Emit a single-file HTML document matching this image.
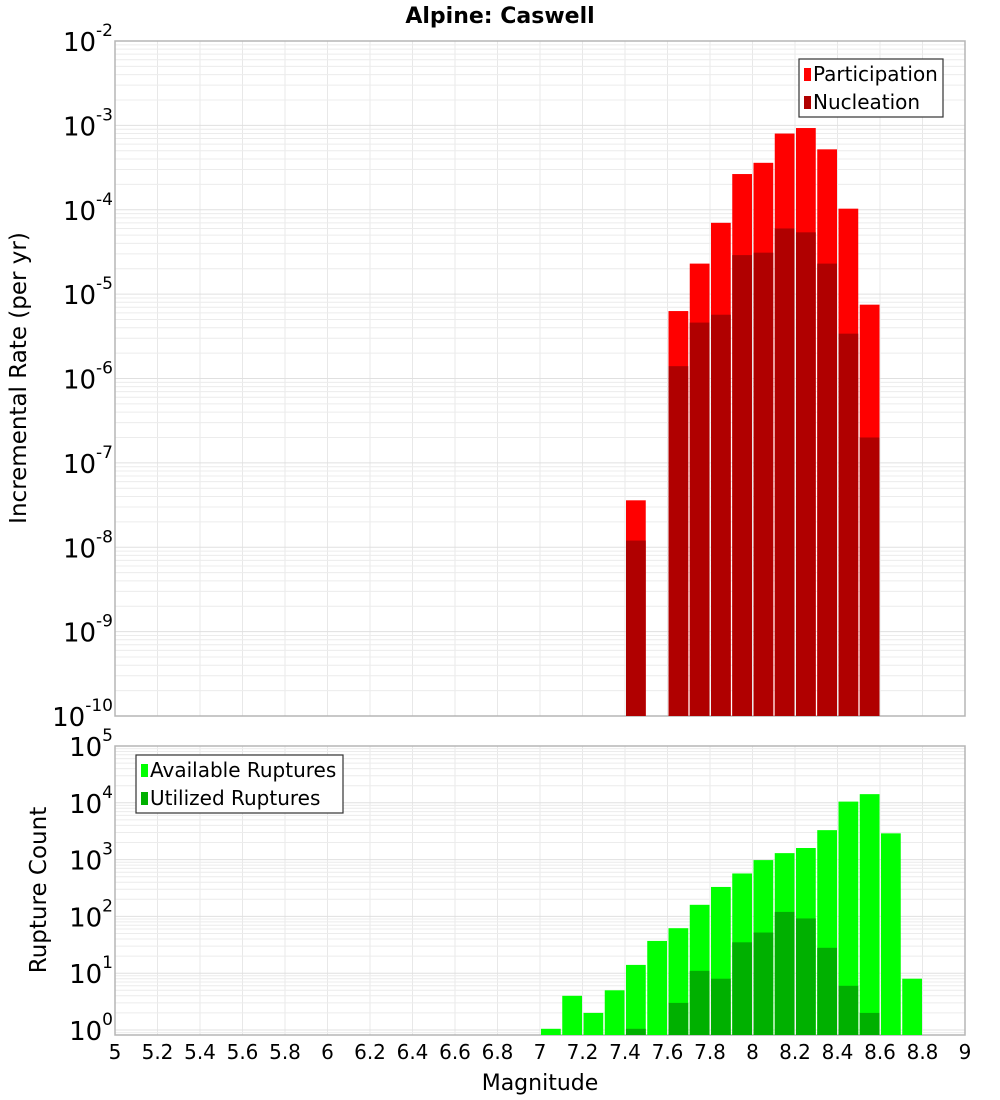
<!DOCTYPE html>
<html><head><meta charset="utf-8"><style>
body{margin:0;background:#fff;}
svg{display:block;font-family:"DejaVu Sans","Liberation Sans",sans-serif;}
</style></head><body>
<svg id="chart" width="1000" height="1100" viewBox="0 0 1000 1100" xmlns="http://www.w3.org/2000/svg">
<text x="500" y="23" text-anchor="middle" font-size="22" font-weight="bold">Alpine: Caswell</text>
<g id="top"></g><g id="bot"></g><g id="xaxis"></g>
<text x="540" y="1090" text-anchor="middle" font-size="22">Magnitude</text>
<text transform="translate(26,378) rotate(-90)" text-anchor="middle" font-size="23">Incremental Rate (per yr)</text>
<text transform="translate(46,890) rotate(-90)" text-anchor="middle" font-size="23">Rupture Count</text>
</svg>
<script>
const binStarts=[7.0,7.1,7.2,7.3,7.4,7.5,7.6,7.7,7.8,7.9,8.0,8.1,8.2,8.3,8.4,8.5,8.6,8.7];
const participation=[0,0,0,0,3.6e-8,0,6.3e-6,2.3e-5,7.0e-5,2.65e-4,3.6e-4,8.0e-4,9.3e-4,5.2e-4,1.03e-4,7.5e-6,0,0];
const nucleation=[0,0,0,0,1.2e-8,0,1.4e-6,4.6e-6,5.7e-6,2.9e-5,3.1e-5,6.0e-5,5.4e-5,2.3e-5,3.4e-6,2.0e-7,0,0];
const available=[1.05,4,2,5,14,37,62,160,330,570,980,1300,1600,3300,10500,14200,2900,8];
const utilized=[0,0,0,0,1.05,0,3.0,11,8,35,52,120,92,28,6,2,0,0];
const xTicks=[5,5.2,5.4,5.6,5.8,6,6.2,6.4,6.6,6.8,7,7.2,7.4,7.6,7.8,8,8.2,8.4,8.6,8.8,9];
const topDecades=[-10,-9,-8,-7,-6,-5,-4,-3,-2];
const botDecades=[0,1,2,3,4,5];

const NS="http://www.w3.org/2000/svg";
const X0=115,X1=965;
const xs=v=>X0+(v-5)/4*(X1-X0);
function mk(tag,attrs,parent){const e=document.createElementNS(NS,tag);for(const k in attrs)e.setAttribute(k,attrs[k]);parent.appendChild(e);return e;}
function panel(g,top,bottom,lmin,lmax,ys){
  for(const t of xTicks){mk('line',{x1:xs(t),x2:xs(t),y1:top,y2:bottom,stroke:'#e8e8e8','stroke-width':1},g);}
  for(let d=Math.floor(lmin);d<lmax;d++){for(let m=1;m<10;m++){const v=Math.log10(m)+d;if(v<lmin||v>lmax)continue;const y=ys(v);
    mk('line',{x1:X0,x2:X1,y1:y,y2:y,stroke:m==1?'#e0e0e0':'#ececec','stroke-width':1},g);}}
  mk('rect',{x:X0,y:top,width:X1-X0,height:bottom-top,fill:'none',stroke:'#b5b5b5','stroke-width':1.5},g);
}
function bars(g,vals,color,ys,bottom,nm){
  vals.forEach((v,i)=>{if(!(v>0))return;const xa=xs(binStarts[i])+1,xb=xs(binStarts[i]+0.1)-0.5;const y=ys(Math.log10(v));
    const r=mk('rect',{x:xa,y:y,width:xb-xa,height:bottom-y,fill:color},g);
    
    });
}
function ylabels(g,decs,ys,nm){
  for(const d of decs){const y=ys(d);const t=mk('text',{x:113,y:y+10,'text-anchor':'end','font-size':26},g);
    
    
    const a=document.createElementNS(NS,'tspan');a.textContent='10';t.appendChild(a);
    const b=document.createElementNS(NS,'tspan');b.setAttribute('dy','-15');b.setAttribute('font-size','17');b.textContent=String(d);t.appendChild(b);}
}
function legend(g,x,y,w,items){
  mk('rect',{x:x,y:y,width:w,height:58,fill:'#fff',stroke:'#333','stroke-width':1.2},g);
  items.forEach((it,i)=>{mk('rect',{x:x+5,y:y+9+i*28,width:7,height:13,fill:it[1]},g);
    const t=mk('text',{x:x+14,y:y+22+i*28,'font-size':20},g);t.textContent=it[0];});
}
const tg=document.getElementById('top');
const T0=41,T1=716;const yT=v=>T0+(-2-v)/8*(T1-T0);
panel(tg,T0,T1,-10,-2,yT);
bars(tg,participation,'#ff0000',yT,T1,'participation');
bars(tg,nucleation,'#b00000',yT,T1,'nucleation');
ylabels(tg,topDecades,yT,'top-y');
legend(tg,799,59,144,[['Participation','#ff0000'],['Nucleation','#b00000']]);
const bg=document.getElementById('bot');
const B0=746,B1=1035;const yB=v=>B0+(5-v)*56.8;const lminB=5-(B1-B0)/56.8;
panel(bg,B0,B1,lminB,5,yB);
bars(bg,available,'#00ff00',yB,B1,'available');
bars(bg,utilized,'#00b000',yB,B1,'utilized');
ylabels(bg,botDecades,yB,'bottom-y');
legend(bg,136,755,207,[['Available Ruptures','#00ff00'],['Utilized Ruptures','#00b000']]);
const xg=document.getElementById('xaxis');
for(const t of xTicks){const e=mk('text',{x:xs(t),y:1059,'text-anchor':'middle','font-size':20},xg);e.textContent=String(t);
  
  }
</script>
</body></html>
